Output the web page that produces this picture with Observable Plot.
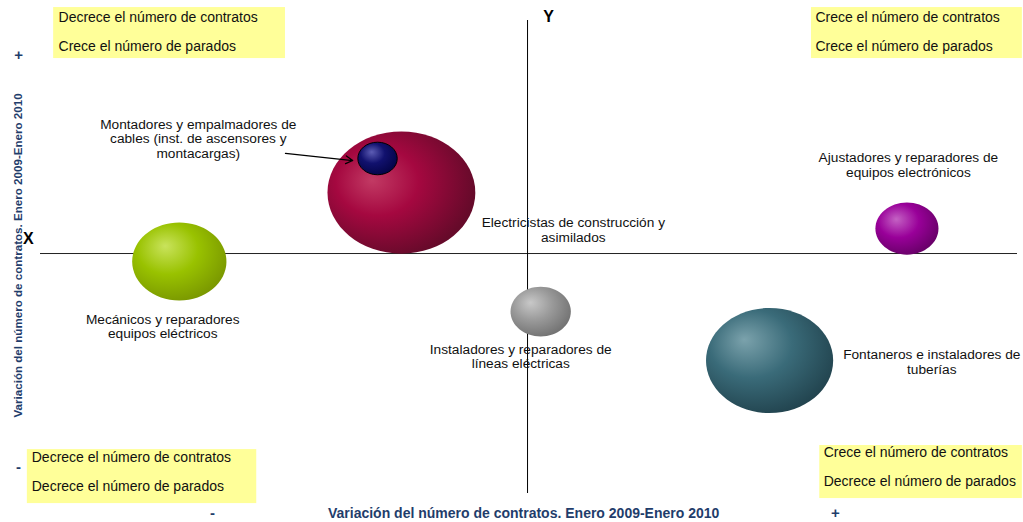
<!DOCTYPE html>
<html><head><meta charset="utf-8">
<script src="https://cdn.jsdelivr.net/npm/d3@7"></script>
<script src="https://cdn.jsdelivr.net/npm/@observablehq/plot@0.6"></script>
<style>html,body{margin:0;padding:0;background:#fff;} #chart svg{display:block;}</style>
</head><body>
<svg width="0" height="0" style="position:absolute">
<defs>
 <radialGradient id="gRed" cx="0.38" cy="0.42" r="0.62" fx="0.3" fy="0.4">
  <stop offset="0" stop-color="#c23a64"/><stop offset="0.45" stop-color="#a50840"/><stop offset="1" stop-color="#660a2a"/>
 </radialGradient>
 <radialGradient id="gNavy" cx="0.4" cy="0.38" r="0.62" fx="0.35" fy="0.3">
  <stop offset="0" stop-color="#5c5cb4"/><stop offset="0.5" stop-color="#11116e"/><stop offset="1" stop-color="#05054a"/>
 </radialGradient>
 <radialGradient id="gGreen" cx="0.4" cy="0.38" r="0.65" fx="0.35" fy="0.3">
  <stop offset="0" stop-color="#c9e35c"/><stop offset="0.5" stop-color="#99c200"/><stop offset="1" stop-color="#7a9800"/>
 </radialGradient>
 <radialGradient id="gPurple" cx="0.4" cy="0.38" r="0.65" fx="0.33" fy="0.32">
  <stop offset="0" stop-color="#c462c4"/><stop offset="0.5" stop-color="#990099"/><stop offset="1" stop-color="#680068"/>
 </radialGradient>
 <radialGradient id="gGray" cx="0.4" cy="0.38" r="0.65" fx="0.33" fy="0.32">
  <stop offset="0" stop-color="#c8c8c8"/><stop offset="0.5" stop-color="#9a9a9a"/><stop offset="1" stop-color="#727272"/>
 </radialGradient>
 <radialGradient id="gTeal" cx="0.4" cy="0.38" r="0.65" fx="0.3" fy="0.3">
  <stop offset="0" stop-color="#7ba2ac"/><stop offset="0.5" stop-color="#3a6b79"/><stop offset="1" stop-color="#22444f"/>
 </radialGradient>
</defs>
</svg>
<div id="chart"></div>
<script>
// ---- data ----
const jobs = [
  "Electricistas de construcción y\nasimilados",
  "Montadores y empalmadores de\ncables (inst. de ascensores y\nmontacargas)",
  "Mecánicos y reparadores\nequipos eléctricos",
  "Ajustadores y reparadores de\nequipos electrónicos",
  "Instaladores y reparadores de\nlíneas eléctricas",
  "Fontaneros e instaladores de\ntuberías"
];
const contractChange   = [-0.259, -0.308, -0.715, 0.779, 0.027, 0.497];   // X
const unemployedChange = [0.254, 0.396, -0.033, 0.104, -0.242, -0.446];   // Y
const bubbleSize       = [4500, 320, 1830, 820, 750, 3330];
// label anchor positions (data units)
const labelX = [0.094, -0.676, -0.749, 0.782, -0.014, 0.830];
const labelY = [0.098, 0.479, -0.304, 0.369, -0.429, -0.450];
// arrow from label to small bubble
const arrowFrom = [-0.497, 0.417];
const arrowTo   = [-0.359, 0.3875];

// quadrant notes
const quadLine1 = ["Decrece el número de contratos", "Crece el número de contratos", "Decrece el número de contratos", "Crece el número de contratos"];
const quadLine2 = ["Crece el número de parados", "Crece el número de parados", "Decrece el número de parados", "Decrece el número de parados"];
const quadX1 = [-0.973, 0.583, -1.027, 0.600];
const quadX2 = [-0.497, 1.016, -0.556, 1.016];
const quadY1 = [1.025, 1.025, -0.817, -0.800];
const quadY2 = [0.8125, 0.8125, -1.042, -1.021];
const quadTextX = [-0.963, 0.591, -1.018, 0.608];
const quadTextY1 = [0.983, 0.983, -0.850, -0.829];
const quadTextY2 = [0.8625, 0.8625, -0.971, -0.950];

const xAxisLabel = "Variación del número de contratos. Enero 2009-Enero 2010";
const yAxisLabel = "Variación del número de contratos. Enero 2009-Enero 2010";

// ---- styles ----
const fills = ["url(#gRed)", "url(#gNavy)", "url(#gGreen)", "url(#gPurple)", "url(#gGray)", "url(#gTeal)"];
const strokes = ["none", "#000", "none", "none", "none", "none"];
const axisBlue = "#1f3d6b";

const bubbles = jobs.map((j, i) => ({job: j, x: contractChange[i], y: unemployedChange[i], size: bubbleSize[i], fill: fills[i], stroke: strokes[i], lx: labelX[i], ly: labelY[i]}));
const quads = quadLine1.map((t, i) => ({t1: t, t2: quadLine2[i], x1: quadX1[i], x2: quadX2[i], y1: quadY1[i], y2: quadY2[i], tx: quadTextX[i], ty1: quadTextY1[i], ty2: quadTextY2[i]}));

const ASPECT = 1.21;
const ellipse = {
  draw(ctx, size) {
    const r = Math.sqrt(size / Math.PI);
    const rx = r * Math.sqrt(ASPECT), ry = r / Math.sqrt(ASPECT), k = 0.5523;
    ctx.moveTo(rx, 0);
    ctx.bezierCurveTo(rx, ry * k, rx * k, ry, 0, ry);
    ctx.bezierCurveTo(-rx * k, ry, -rx, ry * k, -rx, 0);
    ctx.bezierCurveTo(-rx, -ry * k, -rx * k, -ry, 0, -ry);
    ctx.bezierCurveTo(rx * k, -ry, rx, -ry * k, rx, 0);
    ctx.closePath();
  }
};

const font = "'Liberation Sans', Arial, sans-serif";

const chart = Plot.plot({
  width: 1023,
  height: 522,
  marginLeft: 40,
  marginRight: 6,
  marginTop: 20,
  marginBottom: 29,
  style: {fontFamily: font, fontSize: "13.7px", background: "#fff", overflow: "visible"},
  x: {domain: [-1, 1.006], axis: null},
  y: {domain: [-1, 0.971], axis: null},
  r: {type: "sqrt", domain: [0, 4500], range: [0, 67.2]},
  color: {type: "identity"},
  marks: [
    Plot.rect(quads, {x1: "x1", x2: "x2", y1: "y1", y2: "y2", fill: "#ffff99"}),
    Plot.text(quads, {x: "tx", y: "ty1", text: "t1", textAnchor: "start", fill: "#111", fontSize: 14}),
    Plot.text(quads, {x: "tx", y: "ty2", text: "t2", textAnchor: "start", fill: "#111", fontSize: 14}),
    Plot.ruleY([0], {stroke: "#222", strokeWidth: 1}),
    Plot.ruleX([0], {stroke: "#000", strokeWidth: 1}),
    Plot.dot(bubbles, {x: "x", y: "y", r: "size", symbol: ellipse, fill: d => d.fill, stroke: d => d.stroke, strokeWidth: 1}),
    Plot.text(bubbles, {x: "lx", y: "ly", text: "job", fill: "#111", lineHeight: 1.07, fontSize: 13.7}),
    Plot.arrow([{x1: arrowFrom[0], y1: arrowFrom[1], x2: arrowTo[0], y2: arrowTo[1]}], {x1: "x1", y1: "y1", x2: "x2", y2: "y2", stroke: "#000", strokeWidth: 1.3, headLength: 9, bend: 0}),
    Plot.text(["X"], {x: -1.025, y: 0.0625, text: d => d, fontWeight: "bold", fontSize: 16, fill: "#000"}),
    Plot.text(["Y"], {x: 0.043, y: 0.9875, text: d => d, fontWeight: "bold", fontSize: 16, fill: "#000"}),
    Plot.text([xAxisLabel], {x: -0.008, y: -1.083, text: d => d, fontWeight: "bold", fontSize: 14, fill: axisBlue}),
    Plot.text([yAxisLabel], {x: -1.045, y: -0.008, text: d => d, rotate: -90, fontWeight: "bold", fontSize: 11.6, fill: axisBlue}),
    Plot.text(["+", "-"], {x: [-1.045, -1.045], y: [0.825, -0.892], text: d => d, fontWeight: "bold", fontSize: 15, fill: axisBlue}),
    Plot.text(["-", "+"], {x: [-0.647, 0.632], y: [-1.083, -1.083], text: d => d, fontWeight: "bold", fontSize: 15, fill: axisBlue})
  ]
});
document.getElementById("chart").appendChild(chart);
</script>
</body></html>
